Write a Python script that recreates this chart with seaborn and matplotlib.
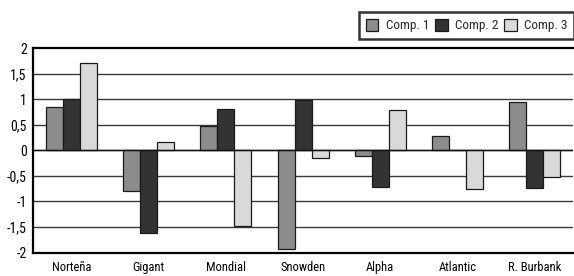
import matplotlib
matplotlib.use("Agg")
import matplotlib.pyplot as plt
import seaborn as sns
import pandas as pd
import numpy as np
from matplotlib.ticker import FixedLocator, FuncFormatter
from matplotlib.patches import Patch

categories = ["Norteña", "Gigant", "Mondial", "Snowden", "Alpha", "Atlantic", "R. Burbank"]
comp1 = [0.84, -0.80, 0.48, -1.93, -0.12, 0.28, 0.94]
comp2 = [1.01, -1.61, 0.80, 0.98, -0.72, 0.00, -0.73]
comp3 = [1.71, 0.16, -1.48, -0.15, 0.78, -0.75, -0.52]
series_names = ["Comp. 1", "Comp. 2", "Comp. 3"]
yticks = [-2, -1.5, -1, -0.5, 0, 0.5, 1, 1.5, 2]

rows = []
for name, vals in zip(series_names, [comp1, comp2, comp3]):
    for c, v in zip(categories, vals):
        rows.append({"cat": c, "series": name, "value": v})
df = pd.DataFrame(rows)

sns.set_theme(style="white")
plt.rcParams["font.family"] = ["Roboto Condensed", "DejaVu Sans"]

colors = ["#8c8c8c", "#333333", "#d9d9d9"]
fig = plt.figure(figsize=(5.74, 2.76), dpi=100)
ax = fig.add_axes([0.0575, 0.085, 0.941, 0.741])

sns.barplot(data=df, x="cat", y="value", hue="series", order=categories,
            hue_order=series_names, palette=colors, width=0.66, gap=0,
            edgecolor="#1a1a1a", linewidth=0.9, ax=ax, legend=False, errorbar=None)

ax.set_ylim(-2, 2)
ax.set_xlim(-0.5, len(categories) - 0.5)
ax.yaxis.set_major_locator(FixedLocator(yticks))
ax.yaxis.set_major_formatter(FuncFormatter(lambda v, p: (("%g" % v).replace(".", ","))))
for y in yticks[1:-1]:
    ax.axhline(y, color="#3a3a3a", lw=1.0, zorder=0)
ax.axhline(0, color="#111111", lw=1.0, zorder=3)

ax.set_xlabel("")
ax.set_ylabel("")
for s in ["left", "bottom", "top"]:
    ax.spines[s].set_visible(True)
    ax.spines[s].set_color("black")
    ax.spines[s].set_linewidth(1.6)
ax.spines["right"].set_visible(False)

ax.tick_params(axis="y", length=0, labelsize=10, pad=4.5, colors="black")
ax.tick_params(axis="x", which="major", length=0, labelsize=9, pad=6, colors="black")
ax.set_xticks(np.arange(0.5, len(categories) - 0.5), minor=True)
ax.tick_params(axis="x", which="minor", length=4, width=1.4, direction="out", color="black")

handles = [Patch(facecolor=c, edgecolor="#1a1a1a", linewidth=0.9) for c in colors]
leg = fig.legend(handles, series_names, loc="upper right", bbox_to_anchor=(1.0, 0.956),
                 ncol=3, frameon=True, fancybox=False, fontsize=9.5,
                 handlelength=0.95, handleheight=1.0, handletextpad=0.55,
                 columnspacing=0.45, borderpad=0.5, borderaxespad=0)
leg.get_frame().set_edgecolor("black")
leg.get_frame().set_linewidth(1.8)

fig.savefig("out.png", dpi=100)
